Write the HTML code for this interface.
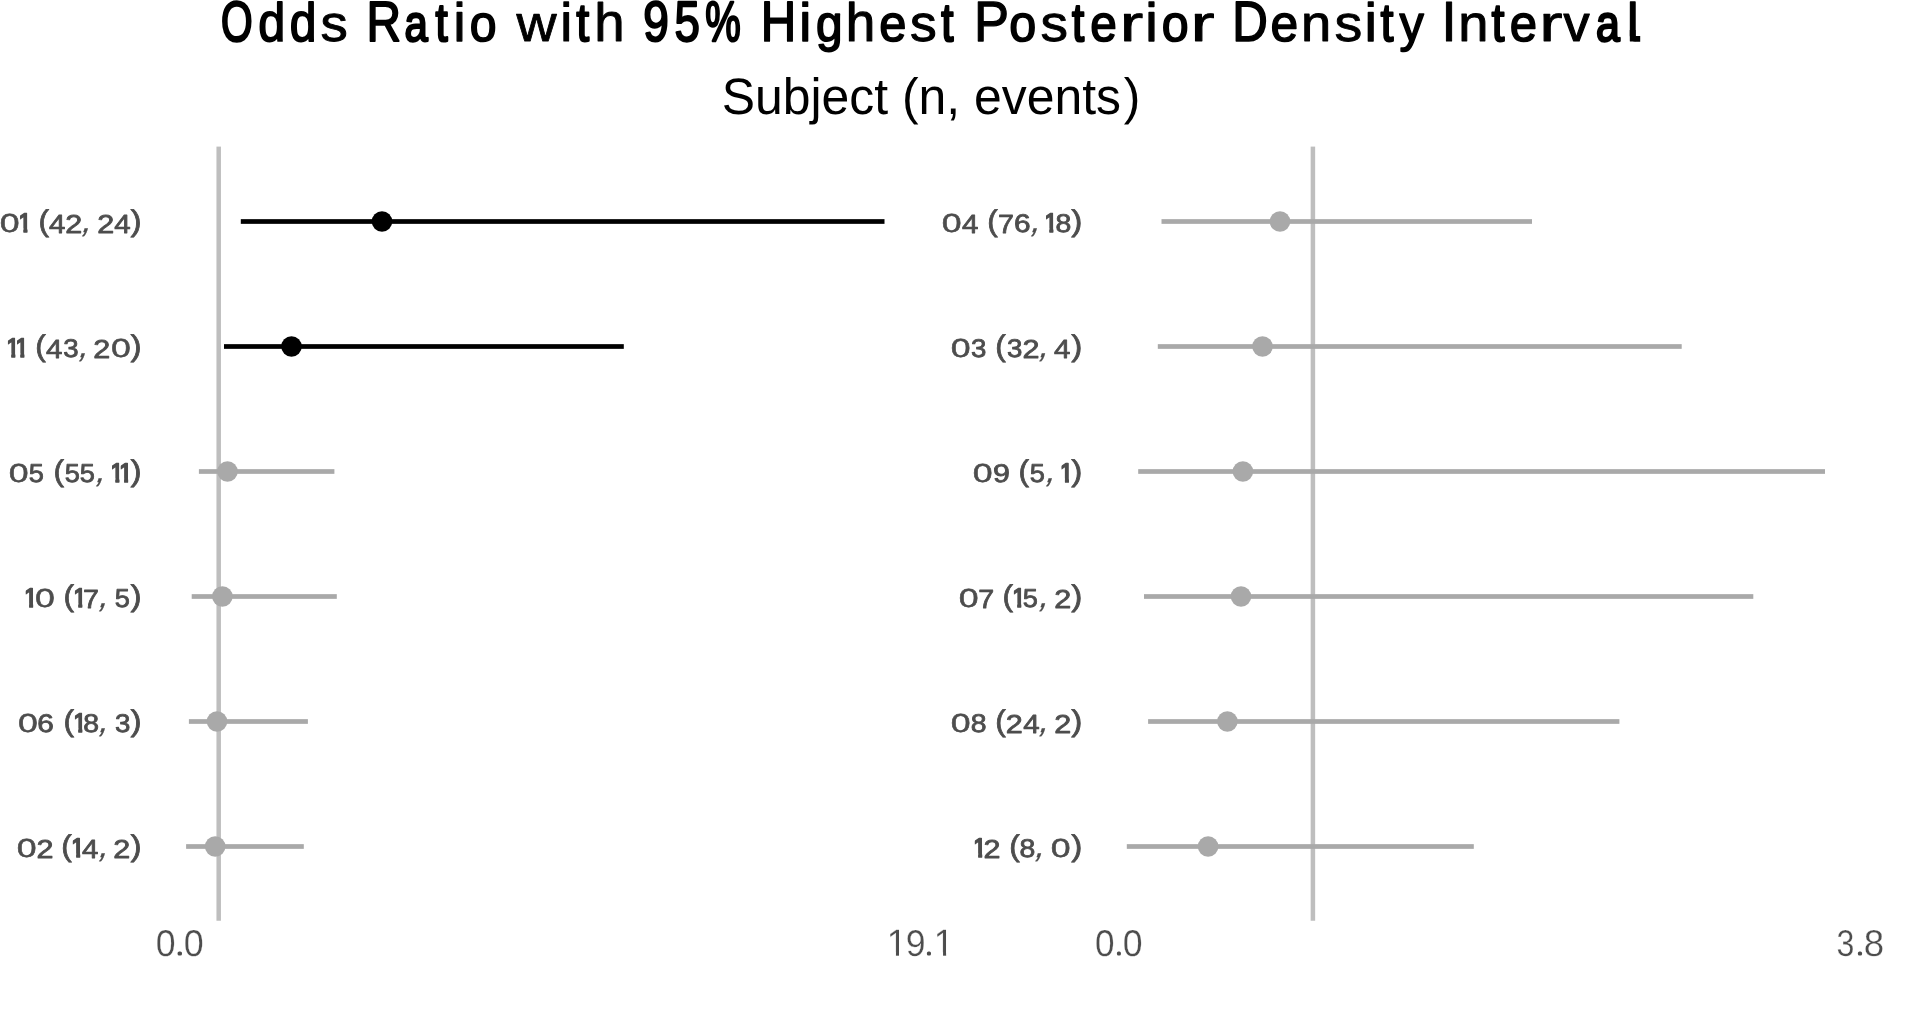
<!DOCTYPE html>
<html><head><meta charset="utf-8"><title>Odds Ratio with 95% Highest Posterior Density Interval</title>
<style>
html,body{margin:0;padding:0;background:#fff;}
body{width:1920px;height:1020px;position:relative;overflow:hidden;font-family:"Liberation Sans",sans-serif;}
svg{position:absolute;left:0;top:0;will-change:transform;}
svg text{font-family:"Liberation Sans",sans-serif;fill:#4d4d4d;stroke:#4d4d4d;stroke-linejoin:round;text-rendering:geometricPrecision;font-kerning:none;}
.y03{stroke-width:0.3px}.y08{stroke-width:0.8px}.y10{stroke-width:0.5px}.y15{stroke-width:1.5px}
svg text.tt{fill:#000;stroke:#000}
svg text.ax{stroke:#fff;stroke-width:0.3px}
svg text.axd{stroke-width:3.2px}
.sub{position:absolute;left:721.73px;top:69.01px;font-size:49.9px;line-height:56px;color:#000;white-space:nowrap;font-kerning:none;text-rendering:geometricPrecision;}
</style></head><body>
<svg width="1920" height="1020" viewBox="0 0 1920 1020">
<rect x="216.45" y="146.6" width="4.5" height="774.15" fill="#bebebe"/>
<rect x="1310.65" y="146.6" width="4.5" height="774.15" fill="#bebebe"/>
<rect x="240.80" y="219.15" width="643.70" height="4.7" fill="#000"/>
<circle cx="382.00" cy="221.50" r="10.3" fill="#000"/>
<rect x="224.00" y="344.15" width="399.80" height="4.7" fill="#000"/>
<circle cx="291.50" cy="346.50" r="10.3" fill="#000"/>
<rect x="198.90" y="469.15" width="135.50" height="4.7" fill="#a9a9a9"/>
<circle cx="227.50" cy="471.50" r="10.3" fill="#a9a9a9"/>
<rect x="191.70" y="594.15" width="145.10" height="4.7" fill="#a9a9a9"/>
<circle cx="222.40" cy="596.50" r="10.3" fill="#a9a9a9"/>
<rect x="188.90" y="719.15" width="119.00" height="4.7" fill="#a9a9a9"/>
<circle cx="217.00" cy="721.50" r="10.3" fill="#a9a9a9"/>
<rect x="186.10" y="844.15" width="117.70" height="4.7" fill="#a9a9a9"/>
<circle cx="215.20" cy="846.50" r="10.3" fill="#a9a9a9"/>
<rect x="1161.50" y="219.15" width="370.50" height="4.7" fill="#a9a9a9"/>
<circle cx="1280.00" cy="221.50" r="10.3" fill="#a9a9a9"/>
<rect x="1157.80" y="344.15" width="523.90" height="4.7" fill="#a9a9a9"/>
<circle cx="1262.50" cy="346.50" r="10.3" fill="#a9a9a9"/>
<rect x="1138.20" y="469.15" width="686.80" height="4.7" fill="#a9a9a9"/>
<circle cx="1242.90" cy="471.50" r="10.3" fill="#a9a9a9"/>
<rect x="1144.00" y="594.15" width="609.30" height="4.7" fill="#a9a9a9"/>
<circle cx="1241.00" cy="596.50" r="10.3" fill="#a9a9a9"/>
<rect x="1148.10" y="719.15" width="471.30" height="4.7" fill="#a9a9a9"/>
<circle cx="1227.40" cy="721.50" r="10.3" fill="#a9a9a9"/>
<rect x="1126.80" y="844.15" width="347.00" height="4.7" fill="#a9a9a9"/>
<circle cx="1208.10" cy="846.50" r="10.3" fill="#a9a9a9"/>
<defs><clipPath id="k0"><rect x="23.40" y="210.90" width="4.00" height="23.95"/><rect x="20.05" y="210.90" width="3.60" height="17.55"/></clipPath><clipPath id="k1"><rect x="11.28" y="335.90" width="4.00" height="23.95"/><rect x="7.92" y="335.90" width="3.60" height="17.55"/></clipPath><clipPath id="k2"><rect x="20.32" y="335.90" width="4.00" height="23.95"/><rect x="16.97" y="335.90" width="3.60" height="17.55"/></clipPath><clipPath id="k3"><rect x="115.36" y="460.90" width="4.00" height="23.95"/><rect x="112.01" y="460.90" width="3.60" height="17.55"/></clipPath><clipPath id="k4"><rect x="124.11" y="460.90" width="4.00" height="23.95"/><rect x="120.76" y="460.90" width="3.60" height="17.55"/></clipPath><clipPath id="k5"><rect x="29.11" y="585.90" width="4.00" height="23.95"/><rect x="25.76" y="585.90" width="3.60" height="17.55"/></clipPath><clipPath id="k6"><rect x="78.28" y="585.90" width="4.00" height="23.95"/><rect x="74.92" y="585.90" width="3.60" height="17.55"/></clipPath><clipPath id="k7"><rect x="78.28" y="710.90" width="4.00" height="23.95"/><rect x="74.92" y="710.90" width="3.60" height="17.55"/></clipPath><clipPath id="k8"><rect x="76.19" y="835.90" width="4.00" height="23.95"/><rect x="72.84" y="835.90" width="3.60" height="17.55"/></clipPath><clipPath id="k9"><rect x="1049.32" y="210.90" width="4.00" height="23.95"/><rect x="1045.97" y="210.90" width="3.60" height="17.55"/></clipPath><clipPath id="k10"><rect x="1064.94" y="460.90" width="4.00" height="23.95"/><rect x="1061.59" y="460.90" width="3.60" height="17.55"/></clipPath><clipPath id="k11"><rect x="1017.23" y="585.90" width="4.00" height="23.95"/><rect x="1013.88" y="585.90" width="3.60" height="17.55"/></clipPath><clipPath id="k12"><rect x="978.19" y="835.90" width="4.00" height="23.95"/><rect x="974.84" y="835.90" width="3.60" height="17.55"/></clipPath><clipPath id="k13"><rect x="895.95" y="927.90" width="3.05" height="29.90"/><rect x="889.50" y="927.90" width="6.70" height="24.31"/></clipPath><clipPath id="k14"><rect x="943.05" y="927.90" width="3.05" height="29.90"/><rect x="936.50" y="927.90" width="6.80" height="24.31"/></clipPath></defs>
<g aria-label="01 (42, 24)"><text class="y10" transform="translate(-0.34,232.40) scale(1.373,1)" font-size="25.99">0</text><g clip-path="url(#k0)"><text class="y15" transform="translate(17.33,232.10) scale(1.021,1)" font-size="26.82">1</text></g> <text class="y08" transform="translate(38.38,231.30) scale(1.064,1)" font-size="29.95">(</text><text class="y08" transform="translate(48.90,232.50) scale(1.120,1)" font-size="26.31">4</text><text class="y08" transform="translate(65.24,232.50) scale(1.181,1)" font-size="25.92">2</text><text class="y03" transform="translate(80.59,232.38) skewX(-18.20)" font-size="32.57">,</text> <text class="y08" transform="translate(97.32,232.50) scale(1.181,1)" font-size="25.92">2</text><text class="y08" transform="translate(114.19,232.50) scale(1.120,1)" font-size="26.31">4</text><text class="y08" transform="translate(130.60,231.30) scale(1.111,1)" font-size="29.95">)</text></g>
<g aria-label="11 (43, 20)"><g clip-path="url(#k1)"><text class="y15" transform="translate(5.21,357.10) scale(1.021,1)" font-size="26.82">1</text></g><g clip-path="url(#k2)"><text class="y15" transform="translate(14.25,357.10) scale(1.021,1)" font-size="26.82">1</text></g> <text class="y08" transform="translate(35.30,356.30) scale(1.064,1)" font-size="29.95">(</text><text class="y08" transform="translate(45.94,357.50) scale(1.120,1)" font-size="26.31">4</text><text class="y08" transform="translate(63.22,357.25) scale(1.082,1)" font-size="25.56">3</text><text class="y03" transform="translate(77.59,357.38) skewX(-18.20)" font-size="32.57">,</text> <text class="y08" transform="translate(93.15,357.50) scale(1.181,1)" font-size="25.92">2</text><text class="y10" transform="translate(111.04,357.40) scale(1.373,1)" font-size="25.99">0</text><text class="y08" transform="translate(130.60,356.30) scale(1.111,1)" font-size="29.95">)</text></g>
<g aria-label="05 (55, 11)"><text class="y10" transform="translate(8.83,482.40) scale(1.373,1)" font-size="25.99">0</text><text class="y08" transform="translate(28.72,482.25) scale(1.048,1)" font-size="25.94">5</text> <text class="y08" transform="translate(53.38,481.30) scale(1.064,1)" font-size="29.95">(</text><text class="y08" transform="translate(64.76,482.25) scale(1.048,1)" font-size="25.94">5</text><text class="y08" transform="translate(79.76,482.25) scale(1.048,1)" font-size="25.94">5</text><text class="y03" transform="translate(94.55,482.38) skewX(-18.20)" font-size="32.57">,</text> <g clip-path="url(#k3)"><text class="y15" transform="translate(109.29,482.10) scale(1.021,1)" font-size="26.82">1</text></g><g clip-path="url(#k4)"><text class="y15" transform="translate(118.04,482.10) scale(1.021,1)" font-size="26.82">1</text></g><text class="y08" transform="translate(130.60,481.30) scale(1.111,1)" font-size="29.95">)</text></g>
<g aria-label="10 (17, 5)"><g clip-path="url(#k5)"><text class="y15" transform="translate(23.04,607.10) scale(1.021,1)" font-size="26.82">1</text></g><text class="y10" transform="translate(34.95,607.40) scale(1.373,1)" font-size="25.99">0</text> <text class="y08" transform="translate(63.38,606.30) scale(1.064,1)" font-size="29.95">(</text><g clip-path="url(#k6)"><text class="y15" transform="translate(72.21,607.10) scale(1.021,1)" font-size="26.82">1</text></g><text class="y08" transform="translate(83.06,607.50) scale(1.089,1)" font-size="26.31">7</text><text class="y03" transform="translate(97.59,607.38) skewX(-18.20)" font-size="32.57">,</text> <text class="y08" transform="translate(114.76,607.25) scale(1.048,1)" font-size="25.94">5</text><text class="y08" transform="translate(130.60,606.30) scale(1.111,1)" font-size="29.95">)</text></g>
<g aria-label="06 (18, 3)"><text class="y10" transform="translate(17.91,732.40) scale(1.373,1)" font-size="25.99">0</text><text class="y08" transform="translate(37.31,732.25) scale(1.168,1)" font-size="25.56">6</text> <text class="y08" transform="translate(63.38,731.30) scale(1.064,1)" font-size="29.95">(</text><g clip-path="url(#k7)"><text class="y15" transform="translate(72.21,732.10) scale(1.021,1)" font-size="26.82">1</text></g><text class="y08" transform="translate(83.34,732.25) scale(1.112,1)" font-size="25.56">8</text><text class="y03" transform="translate(97.59,732.38) skewX(-18.20)" font-size="32.57">,</text> <text class="y08" transform="translate(115.10,732.25) scale(1.082,1)" font-size="25.56">3</text><text class="y08" transform="translate(130.60,731.30) scale(1.111,1)" font-size="29.95">)</text></g>
<g aria-label="02 (14, 2)"><text class="y10" transform="translate(16.87,857.40) scale(1.373,1)" font-size="25.99">0</text><text class="y08" transform="translate(36.49,857.50) scale(1.181,1)" font-size="25.92">2</text> <text class="y08" transform="translate(61.30,856.30) scale(1.064,1)" font-size="29.95">(</text><g clip-path="url(#k8)"><text class="y15" transform="translate(70.12,857.10) scale(1.021,1)" font-size="26.82">1</text></g><text class="y08" transform="translate(81.90,857.50) scale(1.120,1)" font-size="26.31">4</text><text class="y03" transform="translate(97.59,857.38) skewX(-18.20)" font-size="32.57">,</text> <text class="y08" transform="translate(113.36,857.50) scale(1.181,1)" font-size="25.92">2</text><text class="y08" transform="translate(130.60,856.30) scale(1.111,1)" font-size="29.95">)</text></g>
<g aria-label="04 (76, 18)"><text class="y10" transform="translate(941.87,232.40) scale(1.373,1)" font-size="25.99">0</text><text class="y08" transform="translate(961.90,232.50) scale(1.120,1)" font-size="26.31">4</text> <text class="y08" transform="translate(987.34,231.30) scale(1.064,1)" font-size="29.95">(</text><text class="y08" transform="translate(997.98,232.50) scale(1.089,1)" font-size="26.31">7</text><text class="y08" transform="translate(1014.10,232.25) scale(1.168,1)" font-size="25.56">6</text><text class="y03" transform="translate(1029.55,232.38) skewX(-18.20)" font-size="32.57">,</text> <g clip-path="url(#k9)"><text class="y15" transform="translate(1043.25,232.10) scale(1.021,1)" font-size="26.82">1</text></g><text class="y08" transform="translate(1055.43,232.25) scale(1.112,1)" font-size="25.56">8</text><text class="y08" transform="translate(1071.31,231.30) scale(1.111,1)" font-size="29.95">)</text></g>
<g aria-label="03 (32, 4)"><text class="y10" transform="translate(950.83,357.40) scale(1.373,1)" font-size="25.99">0</text><text class="y08" transform="translate(971.06,357.25) scale(1.082,1)" font-size="25.56">3</text> <text class="y08" transform="translate(995.26,356.30) scale(1.064,1)" font-size="29.95">(</text><text class="y08" transform="translate(1007.06,357.25) scale(1.082,1)" font-size="25.56">3</text><text class="y08" transform="translate(1022.40,357.50) scale(1.181,1)" font-size="25.92">2</text><text class="y03" transform="translate(1037.67,357.38) skewX(-18.20)" font-size="32.57">,</text> <text class="y08" transform="translate(1053.90,357.50) scale(1.120,1)" font-size="26.31">4</text><text class="y08" transform="translate(1071.31,356.30) scale(1.111,1)" font-size="29.95">)</text></g>
<g aria-label="09 (5, 1)"><text class="y10" transform="translate(972.79,482.40) scale(1.373,1)" font-size="25.99">0</text><text class="y08" transform="translate(993.05,482.25) scale(1.190,1)" font-size="25.56">9</text> <text class="y08" transform="translate(1018.38,481.30) scale(1.064,1)" font-size="29.95">(</text><text class="y08" transform="translate(1029.76,482.25) scale(1.048,1)" font-size="25.94">5</text><text class="y03" transform="translate(1044.55,482.38) skewX(-18.20)" font-size="32.57">,</text> <g clip-path="url(#k10)"><text class="y15" transform="translate(1058.87,482.10) scale(1.021,1)" font-size="26.82">1</text></g><text class="y08" transform="translate(1071.31,481.30) scale(1.111,1)" font-size="29.95">)</text></g>
<g aria-label="07 (15, 2)"><text class="y10" transform="translate(958.83,607.40) scale(1.373,1)" font-size="25.99">0</text><text class="y08" transform="translate(978.19,607.50) scale(1.089,1)" font-size="26.31">7</text> <text class="y08" transform="translate(1002.47,606.30) scale(1.064,1)" font-size="29.95">(</text><g clip-path="url(#k11)"><text class="y15" transform="translate(1011.17,607.10) scale(1.021,1)" font-size="26.82">1</text></g><text class="y08" transform="translate(1022.80,607.25) scale(1.048,1)" font-size="25.94">5</text><text class="y03" transform="translate(1037.67,607.38) skewX(-18.20)" font-size="32.57">,</text> <text class="y08" transform="translate(1054.28,607.50) scale(1.181,1)" font-size="25.92">2</text><text class="y08" transform="translate(1071.31,606.30) scale(1.111,1)" font-size="29.95">)</text></g>
<g aria-label="08 (24, 2)"><text class="y10" transform="translate(950.83,732.40) scale(1.373,1)" font-size="25.99">0</text><text class="y08" transform="translate(970.68,732.25) scale(1.112,1)" font-size="25.56">8</text> <text class="y08" transform="translate(995.26,731.30) scale(1.064,1)" font-size="29.95">(</text><text class="y08" transform="translate(1005.65,732.50) scale(1.181,1)" font-size="25.92">2</text><text class="y08" transform="translate(1023.15,732.50) scale(1.120,1)" font-size="26.31">4</text><text class="y03" transform="translate(1037.67,732.38) skewX(-18.20)" font-size="32.57">,</text> <text class="y08" transform="translate(1054.28,732.50) scale(1.181,1)" font-size="25.92">2</text><text class="y08" transform="translate(1071.31,731.30) scale(1.111,1)" font-size="29.95">)</text></g>
<g aria-label="12 (8, 0)"><g clip-path="url(#k12)"><text class="y15" transform="translate(972.12,857.10) scale(1.021,1)" font-size="26.82">1</text></g><text class="y08" transform="translate(983.57,857.50) scale(1.181,1)" font-size="25.92">2</text> <text class="y08" transform="translate(1009.30,856.30) scale(1.064,1)" font-size="29.95">(</text><text class="y08" transform="translate(1019.47,857.25) scale(1.112,1)" font-size="25.56">8</text><text class="y03" transform="translate(1033.71,857.38) skewX(-18.20)" font-size="32.57">,</text> <text class="y10" transform="translate(1050.83,857.40) scale(1.373,1)" font-size="25.99">0</text><text class="y08" transform="translate(1071.31,856.30) scale(1.111,1)" font-size="29.95">)</text></g>
<g aria-label="0.0"><text class="ax" transform="translate(155.71,955.79) scale(0.956,1)" font-size="37.29">0</text><text class="axd" transform="translate(178.41,954.40) scale(1.100,1)" font-size="8.42">.</text><text class="ax" transform="translate(183.71,955.79) scale(0.962,1)" font-size="37.29">0</text></g>
<g aria-label="19.1"><g clip-path="url(#k13)"><text class="ax" transform="translate(886.48,955.95) scale(0.979,1)" font-size="38.08">1</text></g><text class="ax" transform="translate(905.78,955.79) scale(0.957,1)" font-size="37.29">9</text><text class="axd" transform="translate(927.75,954.40) scale(1.025,1)" font-size="8.42">.</text><g clip-path="url(#k14)"><text class="ax" transform="translate(933.58,955.95) scale(0.979,1)" font-size="38.08">1</text></g></g>
<g aria-label="0.0"><text class="ax" transform="translate(1094.89,955.79) scale(0.942,1)" font-size="37.29">0</text><text class="axd" transform="translate(1117.83,954.40) scale(1.000,1)" font-size="8.42">.</text><text class="ax" transform="translate(1122.81,955.79) scale(0.956,1)" font-size="37.29">0</text></g>
<g aria-label="3.8"><text class="ax" transform="translate(1836.44,955.79) scale(0.863,1)" font-size="37.29">3</text><text class="axd" transform="translate(1858.67,954.40) scale(1.050,1)" font-size="8.42">.</text><text class="ax" transform="translate(1863.66,955.79) scale(0.983,1)" font-size="37.29">8</text></g>
<g aria-label="Odds Ratio with 95% Highest Posterior Density Interval"><text class="tt" transform="translate(221.03,40.50) scale(0.716,1)" font-size="56.8" stroke-width="2.40">O</text><text class="tt" transform="translate(258.33,40.85) scale(0.897,1)" font-size="54.0" stroke-width="1.69">d</text><text class="tt" transform="translate(289.67,40.82) scale(0.887,1)" font-size="54.0" stroke-width="1.77">d</text><text class="tt" transform="translate(320.47,41.24) scale(1.069,1)" font-size="51.0" stroke-width="0.92">s</text> <text class="tt" transform="translate(366.56,40.77) scale(0.843,1)" font-size="56.8" stroke-width="1.86">R</text><text class="tt" transform="translate(404.51,40.50) scale(0.820,1)" font-size="51.0" stroke-width="2.40">a</text><text class="tt" transform="translate(435.61,40.50) scale(0.810,1)" font-size="54.0" stroke-width="2.39">t</text><text class="tt" transform="translate(453.51,41.07) scale(1.000,1)" font-size="54.0" stroke-width="1.25">i</text><text class="tt" transform="translate(469.75,40.89) scale(0.945,1)" font-size="51.0" stroke-width="1.63">o</text> <text class="tt" transform="translate(516.53,41.29) scale(1.088,1)" font-size="51.0" stroke-width="0.82">w</text><text class="tt" transform="translate(560.31,41.17) scale(1.000,1)" font-size="54.0" stroke-width="1.05">i</text><text class="tt" transform="translate(576.13,40.73) scale(0.865,1)" font-size="54.0" stroke-width="1.93">t</text><text class="tt" transform="translate(594.20,41.22) scale(1.011,1)" font-size="54.0" stroke-width="0.97">h</text> <text class="tt" transform="translate(643.21,40.63) scale(0.811,1)" font-size="56.8" stroke-width="2.13">9</text><text class="tt" transform="translate(674.46,40.60) scale(0.803,1)" font-size="56.8" stroke-width="2.20">5</text><text class="tt" transform="translate(705.32,40.50) scale(0.702,1)" font-size="56.8" stroke-width="2.40">%</text> <text class="tt" transform="translate(760.70,40.86) scale(0.865,1)" font-size="56.8" stroke-width="1.69">H</text><text class="tt" transform="translate(799.34,41.00) scale(1.000,1)" font-size="54.0" stroke-width="1.40">i</text><text class="tt" transform="translate(816.04,40.86) scale(0.936,1)" font-size="51.0" stroke-width="1.69">g</text><text class="tt" transform="translate(845.64,41.13) scale(0.980,1)" font-size="54.0" stroke-width="1.15">h</text><text class="tt" transform="translate(879.27,40.93) scale(0.958,1)" font-size="51.0" stroke-width="1.55">e</text><text class="tt" transform="translate(909.96,41.18) scale(1.046,1)" font-size="51.0" stroke-width="1.04">s</text><text class="tt" transform="translate(941.21,40.50) scale(0.810,1)" font-size="54.0" stroke-width="2.39">t</text> <text class="tt" transform="translate(974.07,41.07) scale(0.924,1)" font-size="56.8" stroke-width="1.26">P</text><text class="tt" transform="translate(1009.32,40.90) scale(0.950,1)" font-size="51.0" stroke-width="1.60">o</text><text class="tt" transform="translate(1040.54,41.26) scale(1.077,1)" font-size="51.0" stroke-width="0.88">s</text><text class="tt" transform="translate(1071.91,40.50) scale(0.810,1)" font-size="54.0" stroke-width="2.39">t</text><text class="tt" transform="translate(1090.36,40.86) scale(0.937,1)" font-size="51.0" stroke-width="1.68">e</text><text class="tt" transform="translate(1119.86,41.30) scale(1.387,1)" font-size="51.0" stroke-width="0.80">r</text><text class="tt" transform="translate(1145.51,40.97) scale(1.000,1)" font-size="54.0" stroke-width="1.45">i</text><text class="tt" transform="translate(1161.63,40.89) scale(0.948,1)" font-size="51.0" stroke-width="1.61">o</text><text class="tt" transform="translate(1190.51,41.30) scale(1.421,1)" font-size="51.0" stroke-width="0.80">r</text> <text class="tt" transform="translate(1232.19,40.86) scale(0.866,1)" font-size="56.8" stroke-width="1.67">D</text><text class="tt" transform="translate(1270.59,40.98) scale(0.976,1)" font-size="51.0" stroke-width="1.44">e</text><text class="tt" transform="translate(1301.10,41.23) scale(1.064,1)" font-size="51.0" stroke-width="0.95">n</text><text class="tt" transform="translate(1334.40,41.29) scale(1.089,1)" font-size="51.0" stroke-width="0.82">s</text><text class="tt" transform="translate(1364.69,41.00) scale(1.000,1)" font-size="54.0" stroke-width="1.40">i</text><text class="tt" transform="translate(1380.43,40.73) scale(0.865,1)" font-size="54.0" stroke-width="1.93">t</text><text class="tt" transform="translate(1399.53,40.91) scale(0.953,1)" font-size="51.0" stroke-width="1.58">y</text> <text class="tt" transform="translate(1441.23,41.20) scale(0.985,1)" font-size="56.8" stroke-width="1.00">I</text><text class="tt" transform="translate(1458.15,41.23) scale(1.064,1)" font-size="51.0" stroke-width="0.95">n</text><text class="tt" transform="translate(1491.53,40.73) scale(0.865,1)" font-size="54.0" stroke-width="1.93">t</text><text class="tt" transform="translate(1509.74,40.94) scale(0.963,1)" font-size="51.0" stroke-width="1.52">e</text><text class="tt" transform="translate(1539.20,41.30) scale(1.373,1)" font-size="51.0" stroke-width="0.80">r</text><text class="tt" transform="translate(1563.42,41.12) scale(1.022,1)" font-size="51.0" stroke-width="1.17">v</text><text class="tt" transform="translate(1596.09,40.50) scale(0.839,1)" font-size="51.0" stroke-width="2.40">a</text><text class="tt" transform="translate(1626.74,41.12) scale(1.000,1)" font-size="54.0" stroke-width="1.15">l</text> <path d="M1632.7 30 V35.6 Q1632.7 38.8 1635.9 38.8 H1640.2" fill="none" stroke="#000" stroke-width="5.8"/></g>
</svg>
<div style="position:absolute;left:0;top:0;width:1920px;height:140px;will-change:transform">
<div class="sub" style="transform:scaleY(1.025);transform-origin:0 45.29px">Subject (n, events<span style="margin-left:2.6px">)</span></div>
</div>
</body></html>
